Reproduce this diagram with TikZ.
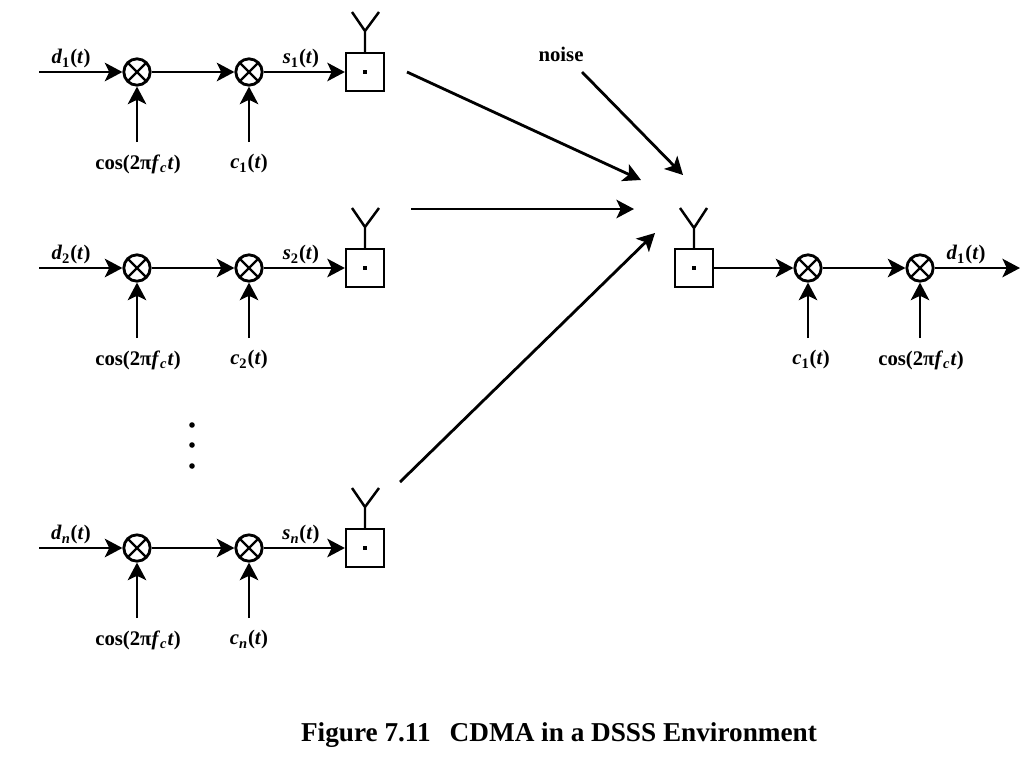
\documentclass[tikz,border=0pt]{standalone}
\usepackage{fontspec}
\setmainfont{Liberation Serif}
\usetikzlibrary{arrows.meta,positioning}
\tikzset{
    >={Stealth[length=10pt,width=10.5pt,inset=2.5pt]},
    signal/.style={->,line width=1.6pt},
    mixer/.style={circle,draw,line width=1.6pt,minimum size=15pt,inner sep=0pt,
        path picture={
            \draw[line width=1.3pt] (path picture bounding box.north west) -- (path picture bounding box.south east);
            \draw[line width=1.3pt] (path picture bounding box.north east) -- (path picture bounding box.south west);
        }},
    txbox/.style={rectangle,draw,line width=1.4pt,minimum size=21.5pt,inner sep=0pt},
    lbl/.style={font=\bfseries\fontsize{11.8}{14}\selectfont,inner sep=0pt},
    aerial/.style={line width=1.4pt}
}
\newcommand{\tm}{\textit{t}}
\newcommand{\carrier}{cos(2π\textit{f}\textsubscript{\textit{c}}\textit{t})}
\begin{document}
\begin{tikzpicture}[x=0.02cm,y=-0.02cm]
\useasboundingbox (0,0) rectangle (1024,768);

% Transmitters
\foreach \row/\ypos/\sub in {1/72/1,2/268/2,3/548/\textit{n}}
{
    \coordinate (in\row) at (39,\ypos);
    \node[mixer] (mixa\row) at (137,\ypos) {};
    \node[mixer] (mixb\row) at (249,\ypos) {};
    \node[txbox] (tx\row) at (365,\ypos) {};
    \fill (tx\row.center) ++(-2,-2) rectangle ++(4,4);
    \coordinate (cosin\row) at (137,\ypos+70);
    \coordinate (codein\row) at (249,\ypos+70);
    \draw[signal] (in\row) -- (mixa\row);
    \draw[signal] (mixa\row) -- (mixb\row);
    \draw[signal] (mixb\row) -- (tx\row);
    \draw[signal] (cosin\row) -- (mixa\row);
    \draw[signal] (codein\row) -- (mixb\row);
    \node[lbl] (dlabel\row) at (71,\ypos-13) {\textit{d}\textsubscript{\sub}(\tm)};
    \node[lbl] (slabel\row) at (301,\ypos-13) {\textit{s}\textsubscript{\sub}(\tm)};
    \node[lbl] (coslabel\row) at (138,\ypos+92) {\carrier};
    \node[lbl] (codelabel\row) at (249,\ypos+92) {\textit{c}\textsubscript{\sub}(\tm)};
    % Antenna
    \coordinate (txfoot\row) at (365,\ypos-41);
    \coordinate (txleft\row) at (352,\ypos-60);
    \coordinate (txright\row) at (379,\ypos-60);
    \draw[aerial] (tx\row.north) -- (txfoot\row) (txleft\row) -- (txfoot\row) -- (txright\row);
}

% Dots
\foreach \ypos in {425,445,466}
{
    \fill (192,\ypos) circle (2.8);
}

% Channel
\coordinate (froma) at (407,72);
\coordinate (toa) at (641,180);
\coordinate (fromb) at (411,209);
\coordinate (tob) at (634,209);
\coordinate (fromc) at (400,482);
\coordinate (toc) at (655,233);
\coordinate (fromn) at (582,72);
\coordinate (ton) at (683,175);
\draw[signal] (froma) -- (toa);
\draw[signal] (fromb) -- (tob);
\draw[signal] (fromc) -- (toc);
\draw[signal] (fromn) -- (ton);
\node[lbl] (noise) at (561,54) {noise};

% Receiver
\node[txbox] (rx) at (694,268) {};
\coordinate (rxfoot) at (694,228);
\coordinate (rxleft) at (680,208);
\coordinate (rxright) at (707,208);
\draw[aerial] (rx.north) -- (rxfoot) (rxleft) -- (rxfoot) -- (rxright);
\fill (rx.center) ++(-2,-2) rectangle ++(4,4);
\node[mixer] (rxmixa) at (808,268) {};
\node[mixer] (rxmixb) at (920,268) {};
\coordinate (rxout) at (1020,268);
\coordinate (rxcode) at (808,338);
\coordinate (rxcos) at (920,338);
\draw[signal] (rx) -- (rxmixa);
\draw[signal] (rxmixa) -- (rxmixb);
\draw[signal] (rxmixb) -- (rxout);
\draw[signal] (rxcode) -- (rxmixa);
\draw[signal] (rxcos) -- (rxmixb);
\node[lbl] (rxd) at (966,255) {\textit{d}\textsubscript{1}(\tm)};
\node[lbl] (rxcodelabel) at (811,360) {\textit{c}\textsubscript{1}(\tm)};
\node[lbl] (rxcoslabel) at (921,360) {\carrier};

% Caption
\node[font=\bfseries\fontsize{15.5}{18}\selectfont,inner sep=0pt] (caption) at (559,735) {Figure 7.11\hspace{0.7em}CDMA in a DSSS Environment};
\end{tikzpicture}
\end{document}
